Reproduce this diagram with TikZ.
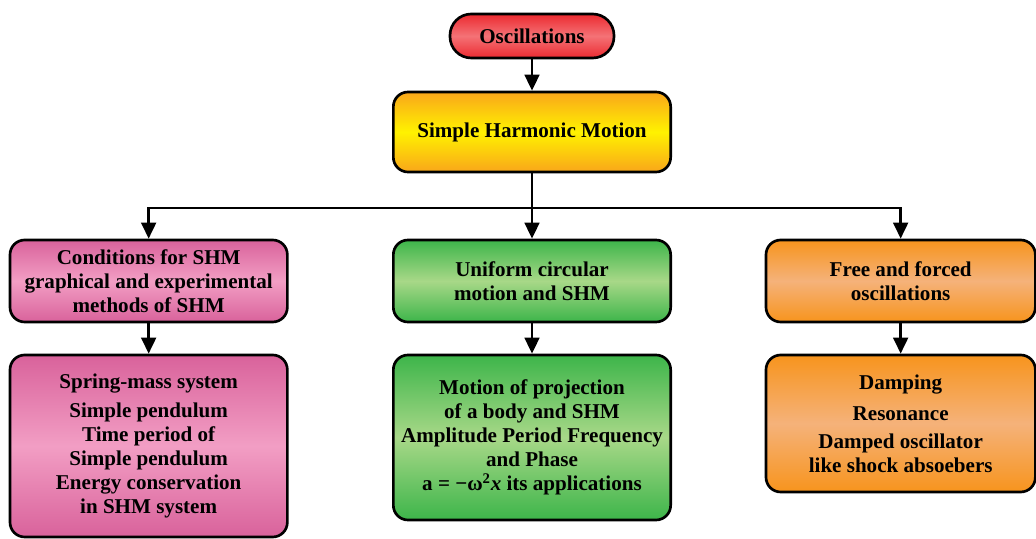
\documentclass[tikz,border=0pt]{standalone}
\usepackage{fontspec}
\setmainfont{Liberation Serif}
\usetikzlibrary{positioning,calc,arrows.meta}
\definecolor{redD}{HTML}{EC2A30}
\definecolor{redL}{HTML}{F47276}
\definecolor{yelD}{HTML}{F9A61A}
\definecolor{yelL}{HTML}{FFF200}
\definecolor{pnkD}{HTML}{D9629B}
\definecolor{pnkL}{HTML}{F29EC4}
\definecolor{grnD}{HTML}{3DB54A}
\definecolor{grnL}{HTML}{A8D888}
\definecolor{orgD}{HTML}{F7941D}
\definecolor{orgL}{HTML}{F5B27A}
\tikzset{
  box/.style ={rectangle, rounded corners=11pt, draw=black, line width=2pt, align=center, inner sep=2pt, font=\fontsize{15.8}{18}\selectfont\bfseries},
  topb/.style={box, rounded corners=16pt, top color=redD, bottom color=redD, middle color=redL, minimum width=123pt, minimum height=33pt},
  shmb/.style={box, top color=yelD, bottom color=yelD, middle color=yelL, minimum width=208pt, minimum height=60pt},
  pnk/.style ={box, top color=pnkD, bottom color=pnkD, middle color=pnkL, minimum width=208pt},
  grn/.style ={box, top color=grnD, bottom color=grnD, middle color=grnL, minimum width=208pt},
  org/.style ={box, top color=orgD, bottom color=orgD, middle color=orgL, minimum width=202pt},
  e/.style   ={-{Triangle[length=12pt,width=11pt]}, draw=black, line width=2pt},
  ln/.style  ={draw=black, line width=2pt},
}
\begin{document}
\begin{tikzpicture}[x=0.75pt,y=0.75pt]
\useasboundingbox (0,0) rectangle (1036,539);
\node[topb] (osc) at (532,503) {Oscillations};
\node[shmb, below=23.5pt of osc] (shm) {Simple Harmonic Motion};
\node[grn, minimum height=61.5pt, below=49pt of shm] (ucm) {Uniform circular\\motion and SHM};
\node[pnk, minimum height=61.5pt, left=77.5pt of ucm] (cond) {Conditions for SHM\\graphical and experimental\\methods of SHM};
\node[org, minimum height=61.5pt, right=69.5pt of ucm] (free) {Free and forced\\oscillations};
\node[pnk, minimum height=136.5pt, below=22.75pt of cond.south, anchor=north] (spr) {Spring-mass system\\[4pt]Simple pendulum\\Time period of\\Simple pendulum\\Energy conservation\\in SHM system};
\node[grn, minimum height=123.75pt, below=22.75pt of ucm.south, anchor=north] (proj) {Motion of projection\\of a body and SHM\\Amplitude Period Frequency\\and Phase\\a = −ω\textsuperscript{2}\textit{x} its applications};
\node[org, minimum height=102.75pt, below=22.75pt of free.south, anchor=north] (damp) {Damping\\[5pt]Resonance\\[3pt]Damped oscillator\\like shock absoebers};
\coordinate (bus) at ($(shm.south)!0.53!(ucm.north)$);
% arrows
\draw[e] (osc) -- (shm);
\draw[e] (shm) -- (ucm);
\draw[ln] (cond.north |- bus) -- (free.north |- bus);
\draw[e] (bus) -| (cond.north);
\draw[e] (bus) -| (free.north);
\draw[e] (cond) -- (spr);
\draw[e] (ucm) -- (proj);
\draw[e] (free) -- (damp);
\end{tikzpicture}
\end{document}
